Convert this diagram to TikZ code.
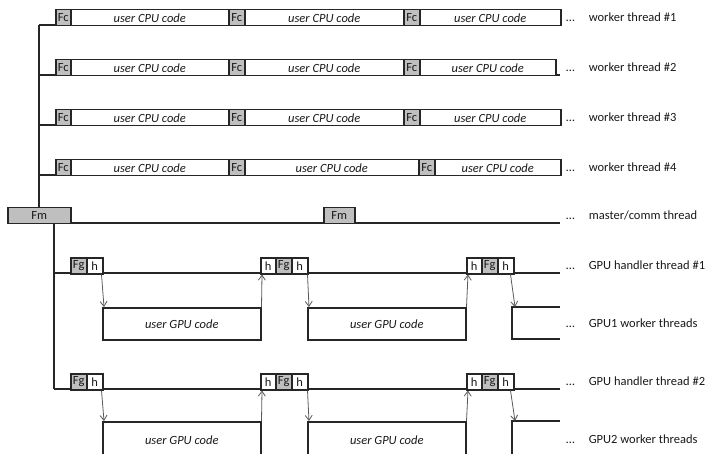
\documentclass[tikz,border=0pt]{standalone}
\usepackage{fontspec}
\setmainfont{Carlito}
\usetikzlibrary{arrows.meta}
\definecolor{boxgray}{RGB}{191,191,191}
\definecolor{linec}{RGB}{38,38,38}
\definecolor{arrc}{RGB}{89,89,89}
\definecolor{textc}{RGB}{25,25,25}
\begin{document}
\begin{tikzpicture}[x=1pt,y=-1pt,
  every node/.style={font=\fontsize{12.5}{14}\selectfont, text=textc},
  bx/.style={draw=linec, fill=white, line width=1.5pt, inner sep=0pt, anchor=north west, minimum height=16pt},
  gbx/.style={bx, fill=boxgray},
  gpubx/.style={bx, minimum width=158pt},
  tl/.style={draw=linec, line width=1.5pt},
  arr/.style={draw=arrc, line width=0.8pt, -{Straight Barb[length=5pt,width=7pt]}},
  lab/.style={anchor=west, inner sep=0pt}
]
\useasboundingbox (0,0) rectangle (706,454);
\clip (0,0) rectangle (706,454);

% ---------- timelines ----------
\coordinate (v1) at (39,25);
\foreach \y in {25,75,125,175}{
  \draw[tl] (39,\y) -- (560,\y);
}
\coordinate (m0) at (7,223);
\coordinate (m1) at (560,223);
\draw[tl] (m0) -- (m1);
\coordinate (v2) at (54,223);
\coordinate (v2b) at (54,389);
\draw[tl] (v2) -- (v2b);
\draw[tl] (54,273) -- (560,273);
\draw[tl] (54,389) -- (560,389);

% ---------- worker rows ----------
% row 1
\node[gbx,minimum width=15pt] (c1f1) at (55,9) {Fc};
\node[bx,minimum width=158pt] (c1u1) at (70,9) {\textit{user CPU code}};
\node[gbx,minimum width=16pt] (c1f2) at (228,9) {Fc};
\node[bx,minimum width=159pt] (c1u2) at (244,9) {\textit{user CPU code}};
\node[gbx,minimum width=16pt] (c1f3) at (403,9) {Fc};
\node[bx,minimum width=141pt] (c1u3) at (419,9) {\textit{user CPU code}};
% row 2
\node[gbx,minimum width=15pt] (c2f1) at (55,59) {Fc};
\node[bx,minimum width=158pt] (c2u1) at (70,59) {\textit{user CPU code}};
\node[gbx,minimum width=16pt] (c2f2) at (228,59) {Fc};
\node[bx,minimum width=159pt] (c2u2) at (244,59) {\textit{user CPU code}};
\node[gbx,minimum width=16pt] (c2f3) at (403,59) {Fc};
\node[bx,minimum width=136pt] (c2u3) at (419,59) {\textit{user CPU code}};
% row 3
\node[gbx,minimum width=15pt] (c3f1) at (55,109) {Fc};
\node[bx,minimum width=158pt] (c3u1) at (70,109) {\textit{user CPU code}};
\node[gbx,minimum width=16pt] (c3f2) at (228,109) {Fc};
\node[bx,minimum width=159pt] (c3u2) at (244,109) {\textit{user CPU code}};
\node[gbx,minimum width=16pt] (c3f3) at (403,109) {Fc};
\node[bx,minimum width=141pt] (c3u3) at (419,109) {\textit{user CPU code}};
% row 4
\node[gbx,minimum width=15pt] (c4f1) at (55,159) {Fc};
\node[bx,minimum width=158pt] (c4u1) at (70,159) {\textit{user CPU code}};
\node[gbx,minimum width=16pt] (c4f2) at (228,159) {Fc};
\node[bx,minimum width=174pt] (c4u2) at (244,159) {\textit{user CPU code}};
\node[gbx,minimum width=16pt] (c4f3) at (418,159) {Fc};
\node[bx,minimum width=126pt] (c4u3) at (434,159) {\textit{user CPU code}};

% ---------- master ----------
\node[gbx,minimum width=63pt] (fm1) at (7,207) {Fm};
\node[gbx,minimum width=31pt] (fm2) at (323,207) {Fm};
\draw[tl] (v1) -- (v1 |- fm1.north);

% ---------- GPU handler 1 ----------
\node[gbx,minimum width=16pt] (a1g1) at (70,257) {Fg};
\node[bx,minimum width=16pt] (a1h1) at (86,257) {h};
\node[bx,minimum width=15pt] (a1h2) at (260,257) {h};
\node[gbx,minimum width=16pt] (a1g2) at (275,257) {Fg};
\node[bx,minimum width=16pt] (a1h3) at (291,257) {h};
\node[bx,minimum width=15pt] (a1h4) at (466,257) {h};
\node[gbx,minimum width=16pt] (a1g3) at (481,257) {Fg};
\node[bx,minimum width=16pt] (a1h5) at (497,257) {h};
% GPU1 workers
\node[gpubx,minimum height=32pt] (g1a) at (102,307) {\textit{user GPU code}};
\node[gpubx,minimum height=32pt] (g1b) at (307,307) {\textit{user GPU code}};
\coordinate (g1c) at (512,307);
\draw[tl] (560,307) -- (g1c) -- (512,339) -- (560,339);

% ---------- GPU handler 2 ----------
\node[gbx,minimum width=16pt] (a2g1) at (70,373) {Fg};
\node[bx,minimum width=16pt] (a2h1) at (86,373) {h};
\node[bx,minimum width=15pt] (a2h2) at (260,373) {h};
\node[gbx,minimum width=16pt] (a2g2) at (275,373) {Fg};
\node[bx,minimum width=16pt] (a2h3) at (291,373) {h};
\node[bx,minimum width=15pt] (a2h4) at (466,373) {h};
\node[gbx,minimum width=16pt] (a2g3) at (481,373) {Fg};
\node[bx,minimum width=16pt] (a2h5) at (497,373) {h};
% GPU2 workers
\node[gpubx,minimum height=36pt] (g2a) at (102,421) {\textit{user GPU code}};
\node[gpubx,minimum height=36pt] (g2b) at (307,421) {\textit{user GPU code}};
\coordinate (g2c) at (512,421);
\draw[tl] (560,421) -- (g2c) -- (512,460);

% ---------- arrows ----------
\draw[arr] ([xshift=-2pt]a1h1.south east) -- ([xshift=2pt]g1a.north west);
\draw[arr] (g1a.north east) -- ([xshift=2pt]a1h2.south west);
\draw[arr] ([xshift=-1pt]a1h3.south east) -- ([xshift=2pt]g1b.north west);
\draw[arr] (g1b.north east) -- ([xshift=2pt]a1h4.south west);
\draw[arr] ([xshift=-4pt]a1h5.south east) -- ([xshift=3pt]g1c);

\draw[arr] ([xshift=-2pt]a2h1.south east) -- ([xshift=2pt]g2a.north west);
\draw[arr] (g2a.north east) -- ([xshift=2pt]a2h2.south west);
\draw[arr] ([xshift=-1pt]a2h3.south east) -- ([xshift=2pt]g2b.north west);
\draw[arr] (g2b.north east) -- ([xshift=2pt]a2h4.south west);
\draw[arr] ([xshift=-4pt]a2h5.south east) -- ([xshift=3pt]g2c);

% ---------- labels ----------
\node[lab] (l1) at (566,17) {…\hspace{14pt}worker thread \#1};
\node[lab] (l2) at (566,67) {…\hspace{14pt}worker thread \#2};
\node[lab] (l3) at (566,117) {…\hspace{14pt}worker thread \#3};
\node[lab] (l4) at (566,167) {…\hspace{14pt}worker thread \#4};
\node[lab] (l5) at (566,215) {…\hspace{14pt}master/comm thread};
\node[lab] (l6) at (566,265) {…\hspace{14pt}GPU handler thread \#1};
\node[lab] (l7) at (566,323) {…\hspace{14pt}GPU1 worker threads};
\node[lab] (l8) at (566,381) {…\hspace{14pt}GPU handler thread \#2};
\node[lab] (l9) at (566,439) {…\hspace{14pt}GPU2 worker threads};
\end{tikzpicture}
\end{document}
